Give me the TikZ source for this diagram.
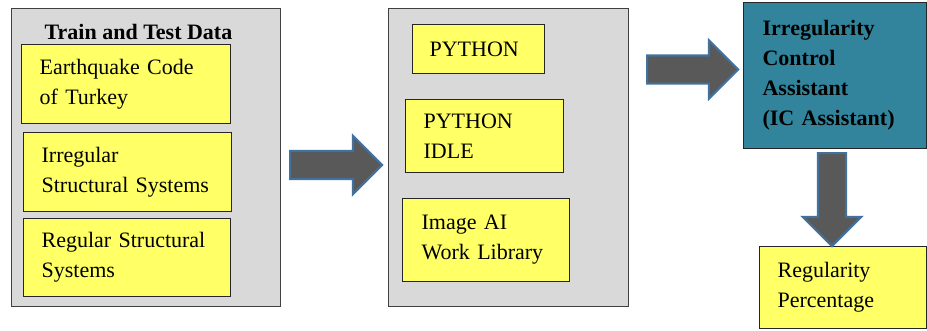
\documentclass[tikz,border=0pt]{standalone}
\usepackage{fontspec}
\setmainfont{Liberation Serif}
\newfontfamily\tnr{Liberation Serif}
\usetikzlibrary{shapes.arrows}
\definecolor{panelgray}{HTML}{D9D9D9}
\definecolor{panelborder}{HTML}{404040}
\definecolor{boxyellow}{HTML}{FFFF66}
\definecolor{boxborder}{HTML}{262626}
\definecolor{icteal}{HTML}{31849B}
\definecolor{arrowgray}{HTML}{595959}
\definecolor{arrowblue}{HTML}{41719C}
\tikzset{
  panel/.style={draw=panelborder, fill=panelgray, line width=1.2pt, anchor=north west, inner sep=0pt},
  txt/.style={font=\tnr\fontsize{22}{30}\selectfont, text=black},
  ybox/.style={txt, draw=boxborder, fill=boxyellow, line width=1.2pt, align=left, anchor=north west, inner ysep=0pt},
  icbox/.style={txt, font=\tnr\fontsize{22}{30}\selectfont\bfseries, draw=boxborder, fill=icteal, line width=1.2pt, align=left, anchor=north west, inner ysep=0pt},
  blockarrow/.style={single arrow, draw=arrowblue, fill=arrowgray, line width=2.2pt, inner xsep=0pt, inner ysep=13pt, single arrow head extend=15pt, single arrow tip angle=90}
}
\begin{document}
\begin{tikzpicture}[x=1pt,y=-1pt]
\useasboundingbox (0,0) rectangle (927,330);
% panel 1
\node[panel, minimum width=269pt, minimum height=298pt] (p1) at (11,8) {};
\node[txt, font=\tnr\fontsize{22}{30}\selectfont\bfseries, anchor=base] (title) at (138.5,39) {Train and Test Data};
\node[ybox, text width=173pt, inner xsep=18pt, minimum height=79pt] (b1) at (21,44) {Earthquake Code\\of Turkey};
\node[ybox, text width=172pt, inner xsep=18pt, minimum height=79pt] (b2) at (23,132) {Irregular\\Structural Systems};
\node[ybox, text width=171pt, inner xsep=18pt, minimum height=78pt] (b3) at (23,218) {Regular Structural\\Systems};
% panel 2
\node[panel, minimum width=240pt, minimum height=298pt] (p2) at (388,8) {};
\node[ybox, text width=98pt, inner xsep=17pt, minimum height=49pt] (py1) at (412,24) {PYTHON};
\node[ybox, text width=122pt, inner xsep=18pt, minimum height=73pt] (py2) at (405,99) {PYTHON\\IDLE};
\node[ybox, text width=129pt, inner xsep=19pt, minimum height=83pt] (img) at (402,198) {Image AI\\Work Library};
% IC assistant
\node[icbox, text width=145pt, inner xsep=19pt, minimum height=146pt] (ic) at (743,2) {Irregularity\\Control\\Assistant\\(IC Assistant)};
% result
\node[ybox, text width=131pt, inner xsep=18pt, minimum height=82pt] (res) at (759,246) {Regularity\\Percentage};
% arrows
\node[blockarrow, minimum height=92pt, anchor=tail] (a1) at (289,165) {};
\node[blockarrow, minimum height=91pt, anchor=tail] (a2) at (646,69.5) {};
\node[blockarrow, minimum height=93pt, rotate=-90, anchor=tail] (a3) at (832,152) {};
\end{tikzpicture}
\end{document}
